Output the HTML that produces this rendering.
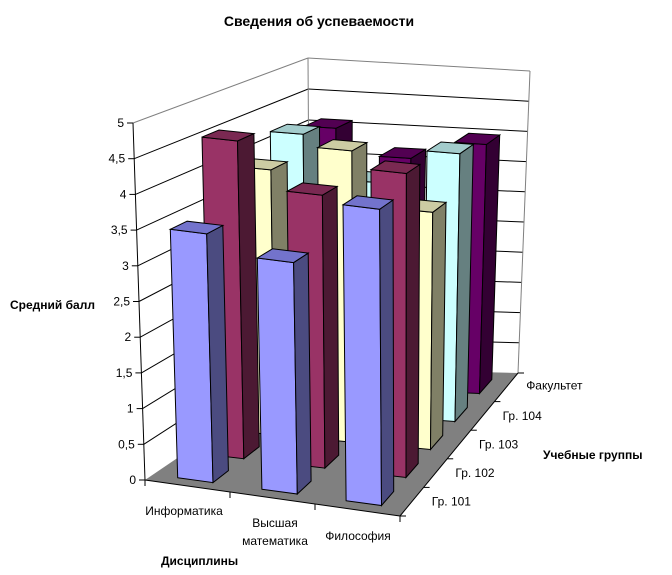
<!DOCTYPE html>
<html><head><meta charset="utf-8"><style>
body{margin:0;background:#fff;width:672px;height:575px;overflow:hidden}
svg{display:block;font-family:"Liberation Sans",Arial,sans-serif}
</style></head><body>
<svg id="chart" width="672" height="575" viewBox="0 0 672 575">
<text x="319" y="26" text-anchor="middle" font-size="14" font-weight="bold">Сведения об успеваемости</text>
<text x="10" y="309" font-size="12" font-weight="bold">Средний балл</text>
<text x="161" y="565" font-size="12" font-weight="bold">Дисциплины</text>
<text x="543" y="459" font-size="12" font-weight="bold">Учебные группы</text>
<g id="walls"></g>
<g id="bars"></g>
<g id="labels"></g>
</svg>
<script>
const categories = ["Информатика", "Высшая математика", "Философия"];
const seriesNames = ["Гр. 101", "Гр. 102", "Гр. 103", "Гр. 104", "Факультет"];
const s101 = [3.5, 3.25, 4.15];
const s102 = [4.6, 3.95, 4.4];
const s103 = [3.95, 4.35, 3.55];
const s104 = [4.25, 3.6, 4.15];
const sFak = [4.1, 3.7, 4.0];
const yTicks = ["0","0,5","1","1,5","2","2,5","3","3,5","4","4,5","5"];
const yMax = 5;

const series = [s101, s102, s103, s104, sFak];
const colors = [
  ["#9999FF","#4B4B80","#7373CC"],
  ["#993366","#4C1933","#7A2952"],
  ["#FFFFCC","#808066","#CCCCA3"],
  ["#CCFFFF","#668080","#A3CCCC"],
  ["#660066","#330033","#520052"]];
const NS = "http://www.w3.org/2000/svg";
const F0={FL:[145,480],FR:[400,516],BL:[310,368],BR:[518,373]};
const F1={FL:[133,123],FR:[398,156],BL:[308,58],BR:[530,71]};
function bil(c,u,v){return [
 (1-v)*((1-u)*c.FL[0]+u*c.FR[0])+v*((1-u)*c.BL[0]+u*c.BR[0]),
 (1-v)*((1-u)*c.FL[1]+u*c.FR[1])+v*((1-u)*c.BL[1]+u*c.BR[1])];}
// x: category coordinate 0..nCat, z: series coordinate 0..nSer, y: value
function P(x,z,y){const u=x/categories.length,v=z/seriesNames.length,h=y/yMax;
 const b=bil(F0,u,v),t=bil(F1,u,v);return [b[0]+h*(t[0]-b[0]),b[1]+h*(t[1]-b[1])];}
function poly(g,pts,fill,stroke,name){const p=document.createElementNS(NS,"polygon");
 p.setAttribute("points",pts.map(q=>q[0].toFixed(1)+","+q[1].toFixed(1)).join(" "));
 p.setAttribute("fill",fill);p.setAttribute("stroke",stroke);p.setAttribute("stroke-width","1");
 
 
 g.appendChild(p);return p;}
function line(g,a,b,col,name){const l=document.createElementNS(NS,"line");
 l.setAttribute("x1",a[0]);l.setAttribute("y1",a[1]);l.setAttribute("x2",b[0]);l.setAttribute("y2",b[1]);
 l.setAttribute("stroke",col);l.setAttribute("stroke-width","1");
 
 
 g.appendChild(l);}
function text(g,x,y,s,anchor,name){const t=document.createElementNS(NS,"text");
 t.setAttribute("x",x);t.setAttribute("y",y);t.setAttribute("font-size","12");t.setAttribute("text-anchor",anchor);
 t.textContent=s;
 
 
 g.appendChild(t);}
const W=document.getElementById("walls"),B=document.getElementById("bars"),L=document.getElementById("labels");
const nC=categories.length,nS=seriesNames.length;
poly(W,[P(0,0,0),P(0,nS,0),P(0,nS,yMax),P(0,0,yMax)],"#fff","none","left-wall");
poly(W,[P(0,nS,0),P(nC,nS,0),P(nC,nS,yMax),P(0,nS,yMax)],"#fff","none","back-wall");
poly(W,[P(0,0,0),P(nC,0,0),P(nC,nS,0),P(0,nS,0)],"#808080","none","floor");
for(let i=1;i<yTicks.length-1;i++){const y=i*0.5;
 line(W,P(0,0,y),P(0,nS,y),"#000","gridline-left");
 line(W,P(0,nS,y),P(nC,nS,y),"#000","gridline-back");}
line(W,P(0,0,yMax),P(0,nS,yMax),"#808080","wall-top-left");
line(W,P(0,nS,yMax),P(nC,nS,yMax),"#808080","wall-top-back");
line(W,P(0,nS,0),P(0,nS,yMax),"#808080","wall-corner");
line(W,P(nC,nS,0),P(nC,nS,yMax),"#808080","wall-right-edge");
line(W,P(0,0,0),P(0,0,yMax),"#000","y-axis-line");
line(W,P(0,0,0),P(nC,0,0),"#000","x-axis-line");
line(W,P(nC,0,0),P(nC,nS,0),"#000","z-axis-line");
yTicks.forEach((t,i)=>{const y=i*0.5,p=P(0,0,y);
 line(L,[p[0]-6,p[1]],p,"#000","y-tick");
 text(L,p[0]-9,p[1]+4,t,"end","y-tick-label");});
for(let c=0;c<=nC;c++){const p=P(c,0,0);line(L,p,[p[0],p[1]+6],"#000","x-tick");}
for(let s=0;s<=nS;s++){const p=P(nC,s,0);line(L,p,[p[0]+6,p[1]],"#000","z-tick");}
const catPos=[[184,515],[275,527],[358,540]];
text(L,184,515,categories[0],"middle","x-tick-label");
text(L,275,527,"Высшая","middle","x-tick-label");
text(L,275,545,"математика","middle","x-tick-label");
text(L,358,540,categories[2],"middle","x-tick-label");
seriesNames.forEach((s,i)=>{const p=P(nC,i+0.5,0);text(L,p[0]+20,p[1]+4+ (i==4?-2:0),s,"start","z-tick-label");});
const bw=0.42,bd=0.5;
for(let s=nS-1;s>=0;s--){for(let c=0;c<nC;c++){
 const v=series[s][c],x0=c+0.5-bw/2,x1=c+0.5+bw/2,z0=s+0.5-bd/2,z1=s+0.5+bd/2;
 const col=colors[s];
 poly(B,[P(x0,z0,0),P(x1,z0,0),P(x1,z0,v),P(x0,z0,v)],col[0],"#000","bar-front");
 poly(B,[P(x1,z0,0),P(x1,z1,0),P(x1,z1,v),P(x1,z0,v)],col[1],"#000","bar-side");
 poly(B,[P(x0,z0,v),P(x1,z0,v),P(x1,z1,v),P(x0,z1,v)],col[2],"#000","bar-top");
}}
</script>
</body></html>
